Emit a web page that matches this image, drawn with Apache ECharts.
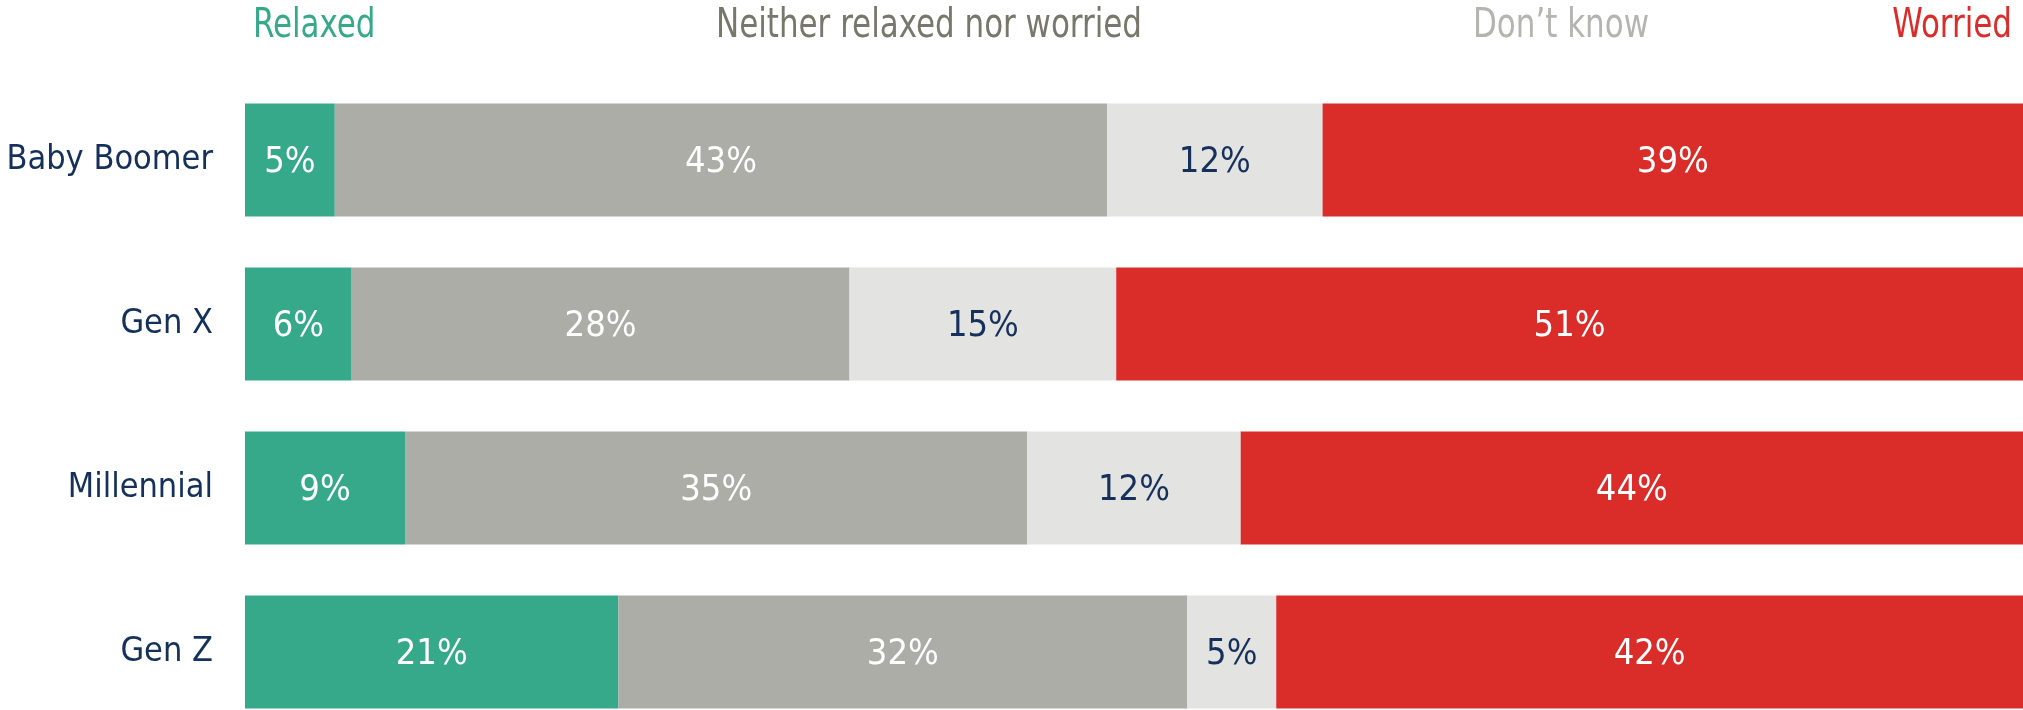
<!DOCTYPE html>
<html>
<head>
<meta charset="utf-8">
<script src="https://cdn.jsdelivr.net/npm/echarts@6/dist/echarts.min.js"></script>
<style>
html,body{margin:0;padding:0;background:#fff;}
#chart{width:2023px;height:710px;}
</style>
</head>
<body>
<div id="chart"></div>
<script>
const categories = ['Baby Boomer', 'Gen X', 'Millennial', 'Gen Z'];
const seriesNames = ['Relaxed', 'Neither relaxed nor worried', 'Don\u2019t know', 'Worried'];
const relaxed = [5, 6, 9, 21];
const neither = [43, 28, 35, 32];
const dontKnow = [12, 15, 12, 5];
const worried = [39, 51, 44, 42];

const raw = [relaxed, neither, dontKnow, worried];
const colors = ['#35A98A', '#ACADA6', '#E3E3E1', '#DA2D2A'];
const labelColors = ['#FFFFFF', '#FFFFFF', '#15305A', '#FFFFFF'];
const headerColors = ['#35A98A', '#77776C', '#B4B5AF', '#DA2D2A'];
const FONT = '"DejaVu Sans Condensed", "Liberation Sans Narrow", sans-serif';

// each row is shown as share of its own total so every bar fills the width
const rowTotals = categories.map((c, i) => raw.reduce((s, arr) => s + arr[i], 0));

function header(text, x, align, color) {
  return {
    type: 'text', x: x, y: 27, scaleX: 0.86, scaleY: 1,
    style: { text: text, fontSize: 40, fill: color, fontFamily: FONT, textAlign: align, textVerticalAlign: 'middle' }
  };
}

const chart = echarts.init(document.getElementById('chart'));
chart.setOption({
  animation: false,
  grid: { left: 245, right: 0, top: 78, height: 656, containLabel: false, outerBoundsMode: 'none' },
  xAxis: { type: 'value', min: 0, max: 100, show: false },
  yAxis: {
    type: 'category', data: categories, inverse: true,
    axisLine: { show: false }, axisTick: { show: false }, splitLine: { show: false },
    axisLabel: { fontSize: 34, color: '#15305A', margin: 32, fontFamily: FONT }
  },
  graphic: [
    header(seriesNames[0], 253, 'left', headerColors[0]),
    header(seriesNames[1], 929, 'center', headerColors[1]),
    header(seriesNames[2], 1561, 'center', headerColors[2]),
    header(seriesNames[3], 2012, 'right', headerColors[3])
  ],
  series: raw.map((arr, si) => ({
    name: seriesNames[si],
    type: 'bar',
    stack: 'total',
    barWidth: 113,
    data: arr.map((v, i) => v / rowTotals[i] * 100),
    itemStyle: { color: colors[si] },
    label: {
      show: true, position: 'inside', offset: [0, 3],
      formatter: p => raw[si][p.dataIndex] + '%',
      color: labelColors[si], fontSize: 36, fontFamily: FONT
    }
  }))
});
</script>
</body>
</html>
